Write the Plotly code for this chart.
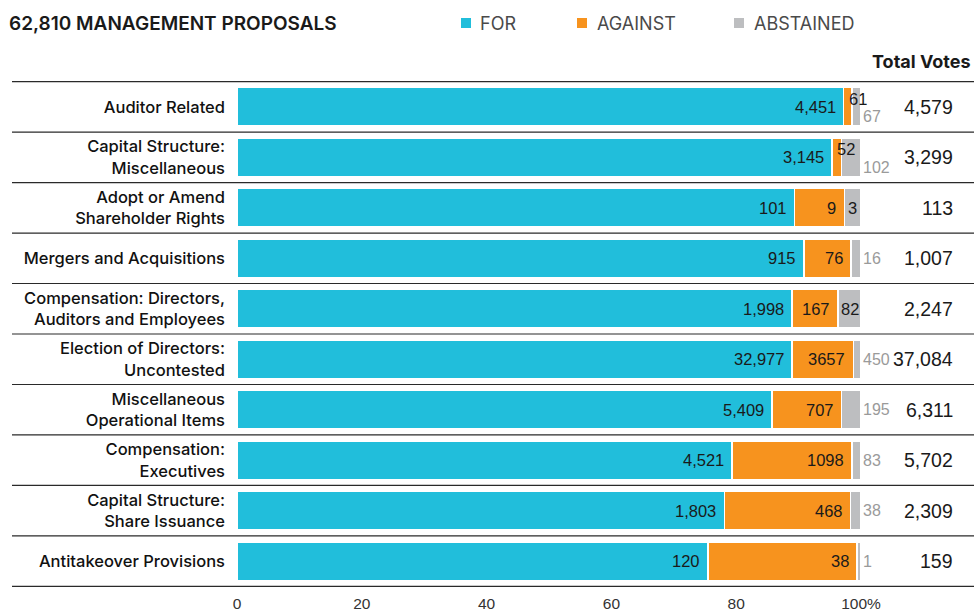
import plotly.graph_objects as go

categories = [
    "Auditor Related",
    "Capital Structure:<br>Miscellaneous",
    "Adopt or Amend<br>Shareholder Rights",
    "Mergers and Acquisitions",
    "Compensation: Directors,<br>Auditors and Employees",
    "Election of Directors:<br>Uncontested",
    "Miscellaneous<br>Operational Items",
    "Compensation:<br>Executives",
    "Capital Structure:<br>Share Issuance",
    "Antitakeover Provisions",
]
votes_for = [4451, 3145, 101, 915, 1998, 32977, 5409, 4521, 1803, 120]
votes_against = [61, 52, 9, 76, 167, 3657, 707, 1098, 468, 38]
votes_abstained = [67, 102, 3, 16, 82, 450, 195, 83, 38, 1]
total_votes = [4579, 3299, 113, 1007, 2247, 37084, 6311, 5702, 2309, 159]
tick_vals = [0, 20, 40, 60, 80, 100]
tick_text = ["0", "20", "40", "60", "80", "100%"]
title_text = "62,810 MANAGEMENT PROPOSALS"
legend_names = ["FOR", "AGAINST", "ABSTAINED"]

C_FOR = "#21BEDB"
C_AG = "#F7931E"
C_AB = "#BDBEC0"
FONT = "Inter, Liberation Sans, Arial, sans-serif"
NUMFONT = "Liberation Sans, Arial, sans-serif"
DARK = "#1a1a1a"
GRAY = "#9a9a9a"

L, R, T, B = 237, 113, 81, 25
W, H = 974, 612
PW = W - L - R
PH = H - T - B

def px_to_paper_x(px):
    return (px - L) / PW

def px_to_paper_y(py):
    return (H - B - py) / PH

pct_for = [f / t * 100 for f, t in zip(votes_for, total_votes)]
pct_ag = [a / t * 100 for a, t in zip(votes_against, total_votes)]
pct_ab = [a / t * 100 for a, t in zip(votes_abstained, total_votes)]

fig = go.Figure()
for name, vals, col in [("FOR", pct_for, C_FOR), ("AGAINST", pct_ag, C_AG), ("ABSTAINED", pct_ab, C_AB)]:
    fig.add_trace(go.Bar(
        y=categories, x=vals, orientation="h", name=name,
        marker=dict(color=col, line=dict(color="white", width=1.5)),
        showlegend=False, hoverinfo="skip",
    ))

px_per_pct = PW / 100.0
char_w = 9.5

def fits(val, pct):
    return len(str(val)) * char_w + 2 <= pct * px_per_pct

ann = []
for i, cat in enumerate(categories):
    ann.append(dict(x=pct_for[i], y=cat, xref="x", yref="y", text=f"{votes_for[i]:,}",
                    xanchor="right", showarrow=False, xshift=-6,
                    font=dict(size=16.5, color=DARK, family=NUMFONT)))
    raised = False
    if fits(votes_against[i], pct_ag[i]):
        ann.append(dict(x=pct_for[i] + pct_ag[i], y=cat, xref="x", yref="y", text=f"{votes_against[i]}",
                        xanchor="right", showarrow=False, xshift=-6,
                        font=dict(size=16.5, color=DARK, family=NUMFONT)))
    else:
        raised = True
        ann.append(dict(x=pct_for[i], y=cat, xref="x", yref="y", text=f"{votes_against[i]}",
                        xanchor="left", showarrow=False, xshift=3, yshift=8,
                        font=dict(size=16.5, color=DARK, family=NUMFONT)))
    if fits(votes_abstained[i], pct_ab[i]):
        ann.append(dict(x=100 - pct_ab[i] / 2, y=cat, xref="x", yref="y", text=f"{votes_abstained[i]}",
                        xanchor="center", showarrow=False,
                        font=dict(size=16.5, color=DARK, family=NUMFONT)))
    else:
        ann.append(dict(x=100, y=cat, xref="x", yref="y", text=f"{votes_abstained[i]}",
                        xanchor="left", showarrow=False, xshift=0, yshift=-10 if raised else 0,
                        font=dict(size=16, color=GRAY, family=NUMFONT)))
    ann.append(dict(x=px_to_paper_x(955), y=cat, xref="paper", yref="y", text=f"{total_votes[i]:,}",
                    xanchor="right", showarrow=False,
                    font=dict(size=19.5, color=DARK, family=NUMFONT)))

ann.append(dict(x=px_to_paper_x(973), y=px_to_paper_y(61), xref="paper", yref="paper",
                text="Total Votes", xanchor="right", yanchor="middle", showarrow=False,
                font=dict(size=18, color=DARK, family=FONT, weight=700)))
ann.append(dict(x=px_to_paper_x(7), y=px_to_paper_y(23), xref="paper", yref="paper",
                text=title_text, xanchor="left", yanchor="middle", showarrow=False,
                font=dict(size=19, color=DARK, family=FONT, weight=600)))

shapes = []
leg_pos = [(461, 478), (577, 595), (734, 752)]
for (mx, tx), name, col in zip(leg_pos, legend_names, [C_FOR, C_AG, C_AB]):
    shapes.append(dict(type="rect", xref="paper", yref="paper",
                       x0=px_to_paper_x(mx), x1=px_to_paper_x(mx + 10),
                       y0=px_to_paper_y(28), y1=px_to_paper_y(18),
                       fillcolor=col, line=dict(width=0)))
    ann.append(dict(x=px_to_paper_x(tx), y=px_to_paper_y(23), xref="paper", yref="paper",
                    text=name, xanchor="left", yanchor="middle", showarrow=False,
                    font=dict(size=18, color="#4a4a4a", family=FONT, weight=400)))

for k in range(len(categories) + 1):
    yv = k - 0.5
    shapes.append(dict(type="line", xref="paper", yref="y",
                       x0=px_to_paper_x(12), x1=px_to_paper_x(974), y0=yv, y1=yv,
                       line=dict(color="#2a2a2a", width=1.2)))

fig.update_layout(
    barmode="stack", bargap=0.24,
    width=W, height=H,
    margin=dict(l=L, r=R, t=T, b=B, autoexpand=False),
    plot_bgcolor="white", paper_bgcolor="white",
    font=dict(family=FONT, color=DARK),
    annotations=ann, shapes=shapes,
    xaxis=dict(range=[0, 100], tickvals=tick_vals, ticktext=tick_text, showgrid=False,
               zeroline=False, showline=False, ticks="", ticklabelstandoff=5, automargin=False,
               tickfont=dict(size=15.5, color="#333", family=NUMFONT), fixedrange=True),
    yaxis=dict(categoryorder="array", categoryarray=categories, autorange="reversed",
               showgrid=False, zeroline=False, showline=False, ticks="", ticklabelstandoff=11,
               automargin=False,
               tickfont=dict(size=16.5, color="#111", family=FONT, weight=500),
               range=[len(categories) - 0.5, -0.5]),
)
fig.write_html("out.html", config={"displayModeBar": False},
               post_script="document.body.style.margin='0';document.body.style.overflow='hidden';")
